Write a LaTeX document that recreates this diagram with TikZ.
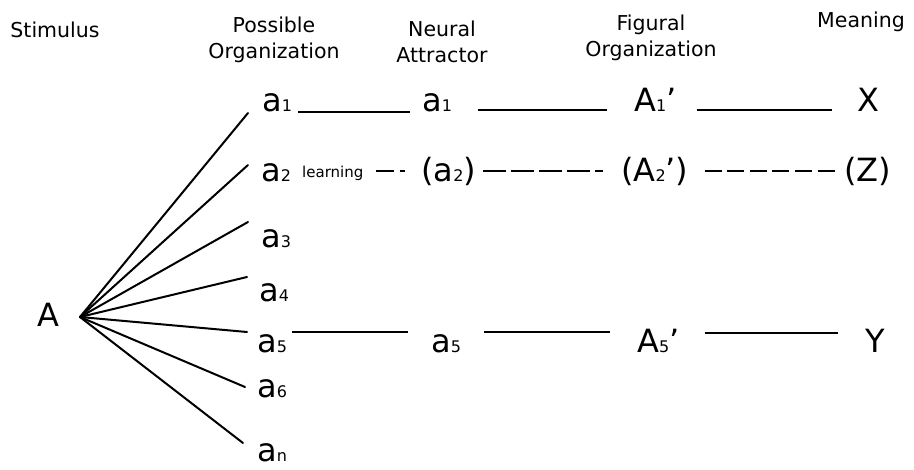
\documentclass[tikz,border=0pt]{standalone}
\usepackage{fontspec}
\setmainfont{DejaVu Sans}
\newcommand{\lowdig}[1]{{\fontsize{16}{16}\selectfont #1}}
\tikzset{
  hdr/.style={font=\fontsize{20.5}{26}\selectfont, align=center, anchor=base, inner sep=0pt},
  lbl/.style={font=\fontsize{32}{32}\selectfont, anchor=base west, inner sep=0pt},
  small/.style={font=\fontsize{15}{15}\selectfont, anchor=base west, inner sep=0pt},
  fan/.style={line width=2pt, line cap=round},
  link/.style={line width=1.6pt},
  dlink/.style={line width=1.6pt}
}
\begin{document}
\begin{tikzpicture}[x=1pt,y=-1pt]
\useasboundingbox[fill=white] (0,0) rectangle (914,470);
% headers (base = baseline of last line)
\node[hdr] (hS) at (55,38) {Stimulus};
\node[hdr] (hP) at (274,59) {Possible\\Organization};
\node[hdr] (hN) at (442,63) {Neural\\Attractor};
\node[hdr] (hF) at (651,57) {Figural\\Organization};
\node[hdr] (hM) at (861,28) {Meaning};
% stimulus
\node[lbl] (A) at (37,327) {A};
\coordinate (apex) at (80,317);
% possible organizations
\node[lbl] (p1) at (262,112) {a\lowdig{1}};
\node[lbl] (p2) at (261,182) {a\lowdig{2}};
\node[lbl] (p3) at (261,248) {a\lowdig{3}};
\node[lbl] (p4) at (259,302) {a\lowdig{4}};
\node[lbl] (p5) at (257,353) {a\lowdig{5}};
\node[lbl] (p6) at (257,398) {a\lowdig{6}};
\node[lbl] (pn) at (257,462) {a\lowdig{n}};
% fan
\draw[fan] (apex) -- ([shift={(-14,1)}]p1.base west);
\draw[fan] (apex) -- ([shift={(-13,-17)}]p2.base west);
\draw[fan] (apex) -- ([shift={(-13,-26)}]p3.base west);
\draw[fan] (apex) -- ([shift={(-12,-25)}]p4.base west);
\draw[fan] (apex) -- ([shift={(-10,-21)}]p5.base west);
\draw[fan] (apex) -- ([shift={(-12,-11)}]p6.base west);
\draw[fan] (apex) -- ([shift={(-14,-19)}]pn.base west);
% row 1
\node[lbl] (n1) at (422,112) {a\lowdig{1}};
\node[lbl] (f1) at (634,112) {A\lowdig{1}'};
\node[lbl] (m1) at (857,112) {X};
\draw[link] ([xshift=6]p1.base east) -- ([xshift=-12]n1.base west);
\draw[link] ([shift={(26,-2)}]n1.base east) -- ([shift={(-27,-2)}]f1.base west);
\draw[link] ([shift={(20,-2)}]f1.base east) -- ([shift={(-25,-2)}]m1.base west);
% row 2
\node[small] (lrn) at (302,178) {learning};
\node[lbl] (n2) at (421,182) {(a\lowdig{2})};
\node[lbl] (f2) at (621,182) {(A\lowdig{2}')};
\node[lbl] (m2) at (844,182) {(Z)};
\draw[dlink, dash pattern=on 18pt off 6pt on 5pt off 40pt] ([shift={(12,-7)}]lrn.base east) -- ([shift={(-13,-11)}]n2.base west);
\draw[dlink, dash pattern=on 23pt off 5pt] ([shift={(7,-11)}]n2.base east) -- ([shift={(-18,-11)}]f2.base west);
\draw[dlink, dash pattern=on 17pt off 5.6pt] ([shift={(16,-11)}]f2.base east) -- ([shift={(-6,-11)}]m2.base west);
% row 5
\node[lbl] (n5) at (431,353) {a\lowdig{5}};
\node[lbl] (f5) at (637,353) {A\lowdig{5}'};
\node[lbl] (m5) at (865,353) {Y};
\draw[link] ([shift={(5,-21)}]p5.base east) -- ([shift={(-23,-21)}]n5.base west);
\draw[link] ([shift={(23,-21)}]n5.base east) -- ([shift={(-27,-21)}]f5.base west);
\draw[link] ([shift={(25,-20)}]f5.base east) -- ([shift={(-27,-20)}]m5.base west);
\end{tikzpicture}
\end{document}
